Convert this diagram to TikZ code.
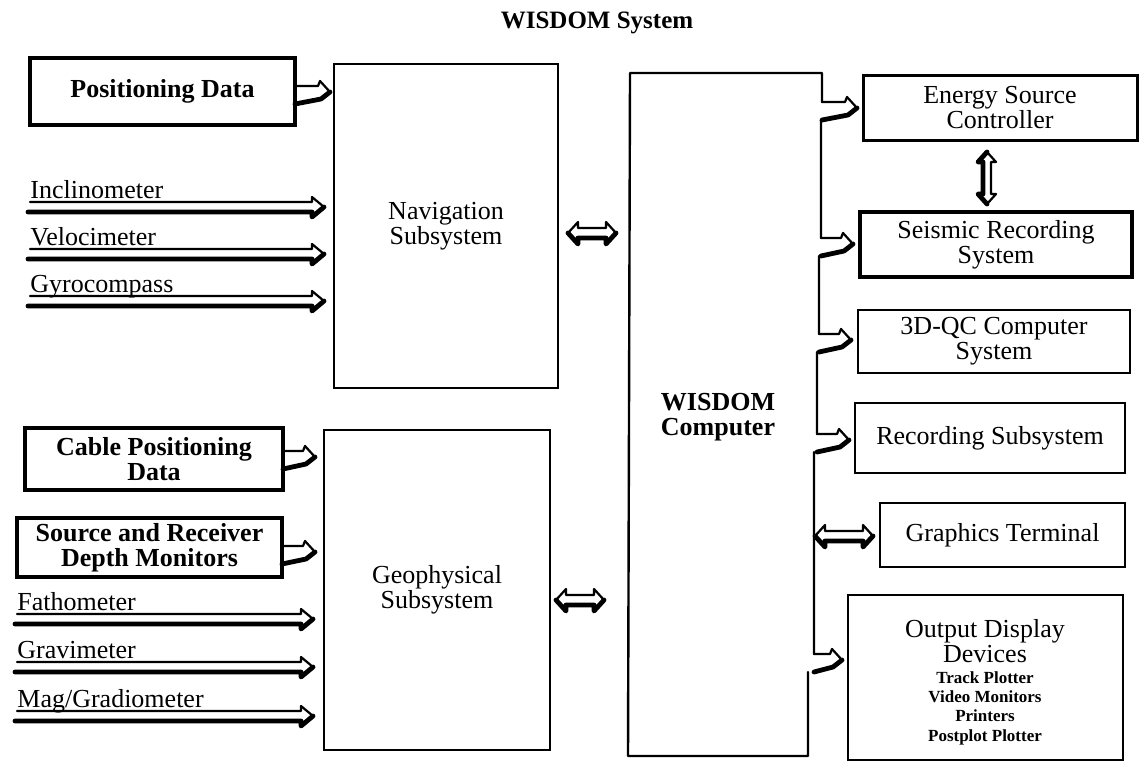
\documentclass[tikz,border=0pt]{standalone}
\usepackage{fontspec}
\setmainfont{Liberation Serif}
\usetikzlibrary{calc}
\newcommand{\mainf}{\fontsize{13}{12.5}\selectfont}
\newcommand{\boldf}{\bfseries\fontsize{13}{12.5}\selectfont}
\newcommand{\smallb}{\bfseries\fontsize{8.5}{9.7}\selectfont}
% horizontal hollow double arrow: x1, x2, y (px)
\newcommand{\dblH}[3]{%
  \draw[hollow] (#1,#3) -- (#1+10,#3-11) -- (#1+10,#3-5) -- (#2-10,#3-5) -- (#2-10,#3-11) -- (#2,#3) -- (#2-10,#3+11) -- (#2-10,#3+5) -- (#1+10,#3+5) -- (#1+10,#3+11) -- cycle;
  \draw[heavy] (#1,#3) -- (#1+10,#3+11) -- (#1+10,#3+5) -- (#2-10,#3+5) -- (#2-10,#3+11) -- (#2,#3);}
% vertical hollow double arrow: x, y1, y2
\newcommand{\dblV}[3]{%
  \draw[hollow] (#1,#2) -- (#1-9,#2+10) -- (#1-4,#2+10) -- (#1-4,#3-10) -- (#1-9,#3-10) -- (#1,#3) -- (#1+9,#3-10) -- (#1+4,#3-10) -- (#1+4,#2+10) -- (#1+9,#2+10) -- cycle;
  \draw[heavy] (#1,#2) -- (#1-9,#2+10) -- (#1-4,#2+10) -- (#1-4,#3-10) -- (#1-9,#3-10) -- (#1,#3);}
% long labelled arrow: x start, x tip, y centre
\newcommand{\longarrow}[3]{%
  \draw[hollow] (#1+2,#3-5) -- (#2-12,#3-5) -- (#2-12,#3-10) -- (#2,#3);
  \draw[heavy] (#1,#3+5) -- (#2-12,#3+5) -- (#2-12,#3+10) -- (#2,#3);}
% short bent arrow out of an edge: edge x, tip x, tip y
\newcommand{\hookarrow}[3]{%
  \draw[hollow] (#1,#3-6) -- (#2-12,#3-6) -- (#2-10,#3-11) -- (#2,#3);
  \draw[heavy] (#2,#3) -- (#2-9,#3+7) -- (#1,#3+12);}
\begin{document}
\begin{tikzpicture}[x=0.5pt,y=-0.5pt,
  box/.style={draw, line width=1.2pt, inner sep=0pt, align=center, font=\mainf},
  inbox/.style={box, line width=2.2pt, font=\boldf},
  lbl/.style={anchor=base west, inner sep=0pt, font=\mainf},
  hollow/.style={draw, line width=1.1pt, line join=round, line cap=round},
  heavy/.style={draw, line width=2.4pt, line join=round, line cap=round}]
\useasboundingbox (0,0) rectangle (1144,782);

\node[font=\bfseries\fontsize{12.5}{14}\selectfont] (title) at (597,23) {WISDOM System};

% inputs to navigation
\node[inbox, minimum width=132.5pt, minimum height=33.5pt] (pd) at (162.5,91.5) {Positioning Data};
\node[box, minimum width=112pt, minimum height=162pt] (nav) at (446,226) {Navigation\\Subsystem};
\hookarrow{295}{330}{92}

\node[lbl] (inc) at (30,198) {Inclinometer};
\node[lbl] (vel) at (30,245) {Velocimeter};
\node[lbl] (gyr) at (30,292) {Gyrocompass};
\longarrow{28}{324}{207}
\longarrow{28}{324}{254}
\longarrow{28}{324}{301}

% inputs to geophysical
\node[inbox, minimum width=129pt, minimum height=31pt] (cpd) at (154,459) {Cable Positioning\\Data};
\node[inbox, minimum width=132.5pt, minimum height=29.5pt] (srd) at (149.5,547.5) {Source and Receiver\\Depth Monitors};
\node[box, minimum width=113pt, minimum height=160pt] (geo) at (437,590) {Geophysical\\Subsystem};
\hookarrow{283}{315}{457}
\hookarrow{282}{315}{552}

\node[lbl] (fat) at (17,610) {Fathometer};
\node[lbl] (grv) at (17,658) {Gravimeter};
\node[lbl] (mag) at (17,707) {Mag/Gradiometer};
\longarrow{15}{313}{619}
\longarrow{15}{313}{667}
\longarrow{15}{313}{716}

% WISDOM computer
\node[font=\boldf, align=center] (wis) at (718,417) {WISDOM\\Computer};
\draw[hollow, line width=1.2pt]
  (822,102) -- (822,73) -- (630,73) -- (628,756) -- (808,756) -- (808,672)
  (821,120) -- (821,238)
  (819,256) -- (819,334)
  (817,352) -- (817,434)
  (814,452) -- (814,654);
\hookarrow{822}{857}{108}
\hookarrow{821}{853}{244}
\hookarrow{819}{851}{340}
\hookarrow{817}{849}{440}
\hookarrow{814}{842}{660}

\dblH{568}{616}{233}
\dblH{556}{604}{600}

% outputs
\node[box, line width=1.5pt, minimum width=137pt, minimum height=32.5pt] (esc) at (1000,107.5) {Energy Source\\Controller};
\node[box, line width=1.8pt, minimum width=136pt, minimum height=32.5pt] (srs) at (996,244.5) {Seismic Recording\\System};
\node[box, minimum width=136pt, minimum height=31.5pt] (qc) at (994,341.5) {3D-QC Computer\\System};
\node[box, minimum width=135pt, minimum height=35pt] (rec) at (990,438) {Recording Subsystem};
\node[box, minimum width=122.5pt, minimum height=32pt] (gfx) at (1002.5,535) {Graphics Terminal};
\node[box, minimum width=137.5pt, minimum height=82.5pt] (out) at (985.5,677.5) {};
\node[font=\mainf, align=center] (outt) at (985,641) {Output Display\\Devices};
\node[font=\smallb, align=center] (outl) at (985,708) {Track Plotter\\Video Monitors\\Printers\\Postplot Plotter};

\dblV{987}{152}{204}
\dblH{815}{873}{536}
\end{tikzpicture}
\end{document}
